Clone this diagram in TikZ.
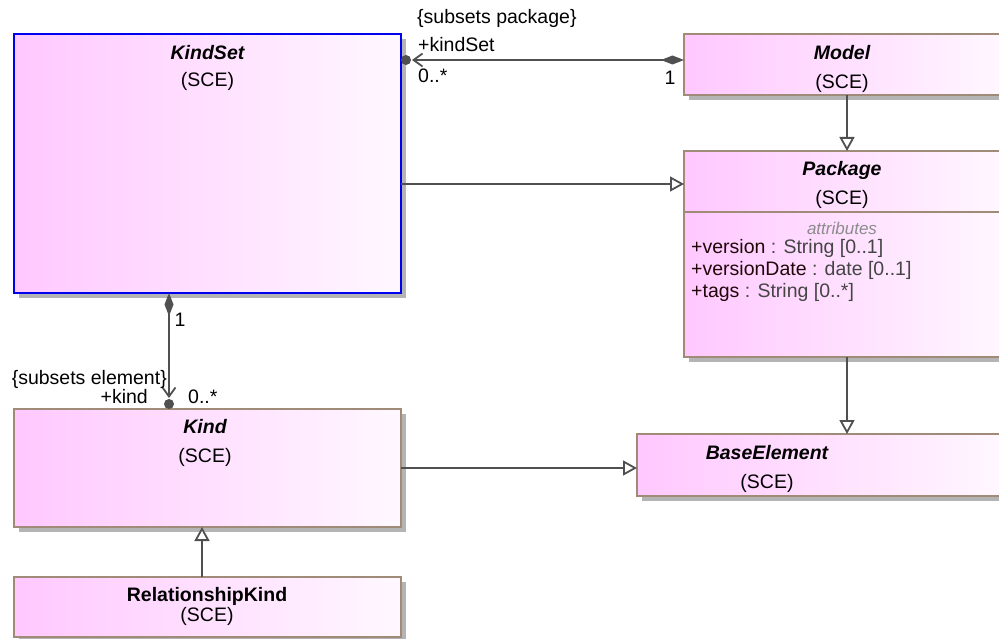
\documentclass[tikz,border=0pt]{standalone}
\usepackage{fontspec}
\setmainfont{Liberation Sans}
\usetikzlibrary{arrows.meta,shadows}
\definecolor{pinkL}{HTML}{FFC8FF}
\definecolor{pinkR}{HTML}{FFF8FF}
\definecolor{brd}{HTML}{A08A78}
\definecolor{conn}{HTML}{505050}
\definecolor{shd}{HTML}{B4B4B4}
\definecolor{attname}{HTML}{200808}
\definecolor{atttype}{HTML}{454545}
\definecolor{attlbl}{HTML}{8C8C8C}
\definecolor{ksblue}{HTML}{0000F0}
\begin{document}
\begin{tikzpicture}[x=1pt,y=-1pt,
  cls/.style={draw=brd, line width=2pt, inner sep=0pt, outer sep=0pt, anchor=north west,
    left color=pinkL, right color=pinkR,
    drop shadow={shadow xshift=5pt, shadow yshift=-5pt, fill=shd, opacity=1}},
  txt/.style={inner sep=0pt, font=\fontsize{19.5}{22}\selectfont},
  ttl/.style={txt, font=\fontsize{19.5}{22}\selectfont\bfseries\itshape},
  att/.style={inner sep=0pt, anchor=west, font=\fontsize{19.5}{22}\selectfont},
  comp/.style={draw=conn, line width=1.8pt, {Diamond[length=23pt,width=9pt]}-{Straight Barb[length=9pt,width=13pt,line width=1.8pt]}, shorten >=11pt},
  gen/.style={draw=conn, line width=1.8pt, -{Triangle[open,length=14pt,width=15pt,fill=white]}},
  dot/.style={circle, fill=conn, inner sep=0pt, minimum size=10pt}
]
\useasboundingbox (0,0) rectangle (999,639);
\clip (0,0) rectangle (999,639);

% classes
\node[cls, draw=ksblue, minimum width=387pt, minimum height=259pt] (ks) at (14,34) {};
\node[cls, minimum width=326pt, minimum height=61pt] (m) at (684,34) {};
\node[cls, minimum width=326pt, minimum height=206pt] (pkg) at (684,151) {};
\node[cls, minimum width=373pt, minimum height=62pt] (base) at (637,434) {};
\node[cls, minimum width=387pt, minimum height=118pt] (kind) at (14,409) {};
\node[cls, minimum width=387pt, minimum height=60pt] (rk) at (14,577) {};

\coordinate (r212) at (0,212);
\draw[draw=brd, line width=2pt] (pkg.west |- r212) -- (pkg.east |- r212);

% class texts
\node[ttl] (ksT) at (207.5,53) {KindSet};
\node[txt] (ksS) at (207.5,81) {(SCE)};
\node[ttl] (mT) at (842,53) {Model};
\node[txt] (mS) at (842,83) {(SCE)};
\node[ttl] (pT) at (842,170) {Package};
\node[txt] (pS) at (842,199) {(SCE)};
\node[inner sep=0pt, text=attlbl, font=\fontsize{17}{20}\selectfont\itshape] (pA) at (842,228) {attributes};
\node[att] (pA1) at (691,248) {\textcolor{attname}{+version} \textcolor{atttype}{: String [0..1]}};
\node[att] (pA2) at (691,270) {\textcolor{attname}{+versionDate} \textcolor{atttype}{: date [0..1]}};
\node[att] (pA3) at (691,292) {\textcolor{attname}{+tags} \textcolor{atttype}{: String [0..*]}};
\node[ttl] (bT) at (767,453) {BaseElement};
\node[txt] (bS) at (767,483) {(SCE)};
\node[ttl] (kT) at (205,427) {Kind};
\node[txt] (kS) at (205,457) {(SCE)};
\node[txt, font=\fontsize{19.5}{22}\selectfont\bfseries] (rT) at (207,596) {RelationshipKind};
\node[txt] (rS) at (207,616) {(SCE)};

% connectors
\coordinate (r60) at (0,60);
\coordinate (r184) at (0,184);
\coordinate (r468) at (0,468);
\coordinate (c169) at (169,0);
\coordinate (c847) at (847,0);
\coordinate (c202) at (202,0);

\draw[comp] (m.west |- r60) -- (ks.east |- r60);
\coordinate (k60) at (ks.east |- r60);
\node[dot] (d1) at ([xshift=5pt]k60) {};

\draw[comp] (c169 |- ks.south) -- (c169 |- kind.north);
\coordinate (k169) at (c169 |- kind.north);
\node[dot] (d2) at ([yshift=5pt]k169) {};

\draw[gen] (ks.east |- r184) -- (pkg.west |- r184);
\draw[gen] (kind.east |- r468) -- (base.west |- r468);
\draw[gen] (c847 |- m.south) -- (c847 |- pkg.north);
\draw[gen] (c847 |- pkg.south) -- (c847 |- base.north);
\draw[gen] (c202 |- rk.north) -- (c202 |- kind.south);

% labels
\node[txt, anchor=west] (l1) at (417,18) {\{subsets package\}};
\node[txt, anchor=west] (l2) at (418,45) {+kindSet};
\node[txt, anchor=west] (l3) at (418,76) {0..*};
\node[txt] (l4) at (670,78) {1};
\node[txt, anchor=east] (l5) at (167,379) {\{subsets element\}};
\node[txt, anchor=east] (l6) at (148,397) {+kind};
\node[txt, anchor=west] (l7) at (188,397) {0..*};
\node[txt] (l8) at (180,320) {1};
\end{tikzpicture}
\end{document}
